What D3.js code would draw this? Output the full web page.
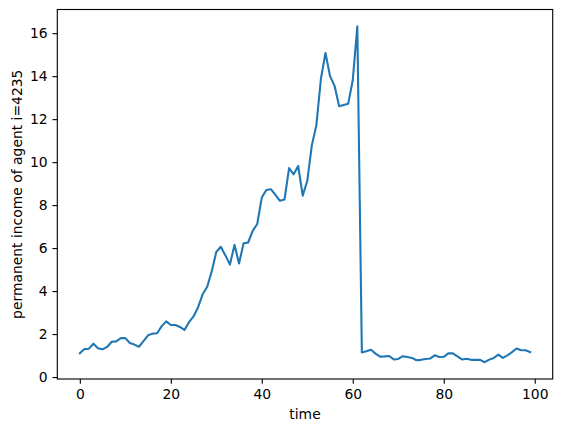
<!DOCTYPE html>
<html lang="en">
<head>
    <meta charset="UTF-8">
    <title>Permanent income</title>
    <script src="https://d3js.org/d3.v7.min.js"></script>
    <style>
        body { margin: 0; background: #fff; }
        svg text { font-family: "DejaVu Sans", sans-serif; }
    </style>
</head>
<body>
<svg width="563" height="432"></svg>
<script>
    // income values, one per time step
    var income = [
        1.11, 1.30, 1.32, 1.55, 1.34, 1.29, 1.40, 1.64, 1.66, 1.81,
        1.81, 1.58, 1.51, 1.41, 1.67, 1.94, 2.02, 2.04, 2.37, 2.59,
        2.42, 2.42, 2.33, 2.19, 2.55, 2.82, 3.25, 3.85, 4.20, 4.92,
        5.82, 6.06, 5.66, 5.23, 6.15, 5.28, 6.22, 6.26, 6.80, 7.12,
        8.35, 8.70, 8.74, 8.48, 8.20, 8.26, 9.72, 9.43, 9.82, 8.44,
        9.13, 10.78, 11.72, 13.88, 15.08, 14.00, 13.55, 12.60, 12.66, 12.72,
        13.82, 16.32, 1.14, 1.20, 1.27, 1.09, 0.95, 0.96, 0.98, 0.82,
        0.84, 0.97, 0.93, 0.89, 0.78, 0.80, 0.84, 0.86, 1.01, 0.93,
        0.94, 1.10, 1.10, 0.96, 0.82, 0.85, 0.80, 0.80, 0.80, 0.69,
        0.81, 0.89, 1.04, 0.89, 1.01, 1.16, 1.33, 1.25, 1.25, 1.16
    ];
    var time = d3.range(income.length);
    var xTicks = [0, 20, 40, 60, 80, 100];
    var yTicks = [0, 2, 4, 6, 8, 10, 12, 14, 16];

    var data = time.map(function (t, i) { return {t: t, v: income[i]}; });

    // axes box in pixels
    var box = {left: 57.3, right: 552.7, top: 9.5, bottom: 379};
    var svg = d3.select("svg");

    // matplotlib style 5% margins
    var xr = d3.extent(time), yr = d3.extent(income);
    var xpad = (xr[1] - xr[0]) * 0.05, ypad = (yr[1] - yr[0]) * 0.05;
    var x = d3.scaleLinear().domain([xr[0] - xpad, xr[1] + xpad]).range([box.left, box.right]);
    var y = d3.scaleLinear().domain([yr[0] - ypad, yr[1] + ypad]).range([box.bottom, box.top]);

    var line = d3.line()
        .x(function (d) { return x(d.t); })
        .y(function (d) { return y(d.v); });

    svg.append("path")
        .datum(data)
        .attr("fill", "none")
        .attr("stroke", "#1f77b4")
        .attr("stroke-width", 2.08)
        .attr("stroke-linejoin", "round")
        .attr("stroke-linecap", "square")
        .attr("d", line);

    var xAxis = svg.append("g")
        .attr("transform", "translate(0," + box.bottom + ")")
        .call(d3.axisBottom(x).tickValues(xTicks).tickSize(4.86).tickPadding(4.86).tickFormat(d3.format("d")));

    var yAxis = svg.append("g")
        .attr("transform", "translate(" + box.left + ",0)")
        .call(d3.axisLeft(y).tickValues(yTicks).tickSize(4.86).tickPadding(4.86).tickFormat(d3.format("d")));

    [xAxis, yAxis].forEach(function (a) {
        a.select(".domain").remove();
        a.selectAll(".tick line").attr("stroke", "#000").attr("stroke-width", 1.11);
        a.selectAll(".tick text")
            .attr("fill", "#000")
            .attr("font-size", "13.9px")
            .style("font-family", "DejaVu Sans, sans-serif");
    });

    // frame
    svg.append("rect")
        .attr("x", box.left)
        .attr("y", box.top)
        .attr("width", box.right - box.left)
        .attr("height", box.bottom - box.top)
        .attr("fill", "none")
        .attr("stroke", "#000")
        .attr("stroke-width", 1.11);

    svg.append("text")
        .attr("x", (box.left + box.right) / 2)
        .attr("y", 419)
        .attr("text-anchor", "middle")
        .attr("font-size", "13.9px")
        .text("time");

    svg.append("text")
        .attr("transform", "translate(22," + ((box.top + box.bottom) / 2) + ") rotate(-90)")
        .attr("text-anchor", "middle")
        .attr("font-size", "13.9px")
        .text("permanent income of agent i=4235");
</script>
</body>
</html>
